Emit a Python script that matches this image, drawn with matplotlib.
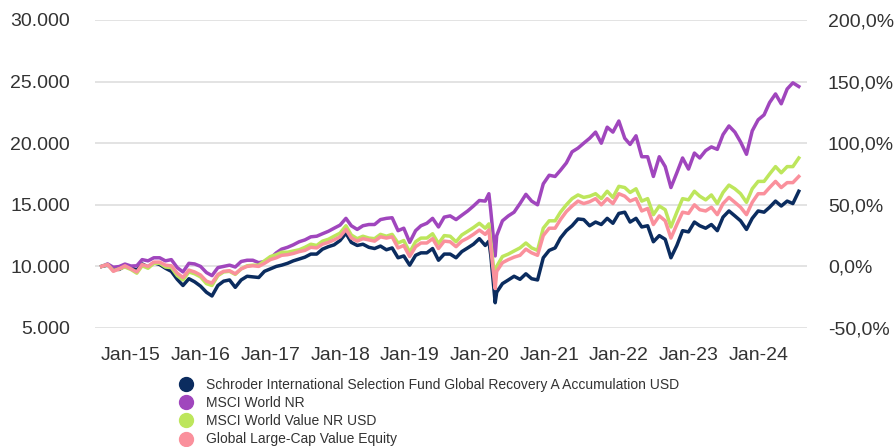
import numpy as np
import pandas as pd
import matplotlib
matplotlib.use("Agg")
import matplotlib.pyplot as plt
import matplotlib.dates as mdates
from matplotlib.lines import Line2D
from matplotlib.ticker import FuncFormatter, FixedLocator

plt.rcParams["font.family"] = ["Liberation Sans", "DejaVu Sans"]

# month ends Jul-2014 .. Jul-2024, plus the Feb-2020 peak and the Mar-2020 trough
month_ends = list(pd.date_range("2014-07-31", "2024-07-31", freq="ME"))
extra_days = [pd.Timestamp("2020-02-19"), pd.Timestamp("2020-03-23")]
dates = sorted(month_ends + extra_days)

fund = [
    10000, 10100, 9800, 9750, 10050, 9900,
    9700, 10200, 9950, 10300, 10150, 9850, 9600, 8950, 8450, 9000, 8750, 8400,
    7900, 7600, 8450, 8800, 8900, 8300, 8900, 9200, 9150, 9100, 9600, 9800,
    10000, 10100, 10250, 10450, 10600, 10750, 11000, 11000, 11400, 11600, 11750, 12100,
    12700, 11950, 11700, 11800, 11550, 11450, 11650, 11350, 11500, 10700, 10850, 10100,
    10900, 11100, 11100, 11450, 10500, 11000, 11000, 10700, 11200, 11500, 11800, 12250,
    11700, 12050, 10900, 7050, 7900, 8600, 8900, 9200, 8950, 9400, 9000, 8900, 10700, 11300,
    11500, 12300, 12900, 13300, 13850, 13800, 13300, 13600, 13400, 13900, 13500, 14300,
    14400, 13600, 13900, 13200, 13300, 12000, 12500, 12200, 10700, 11700, 12900, 12800,
    13600, 13300, 13100, 13400, 12900, 14000, 14500, 14100, 13700, 13000, 13900, 14500,
    14400, 14800, 15300, 14900, 15300, 15100, 16100,
]
msci_world = [
    10000, 10200, 9930, 9990, 10190, 10030,
    10050, 10550, 10450, 10700, 10700, 10450, 10550, 9900, 9550, 10250, 10200, 10000,
    9500, 9250, 9900, 10000, 10100, 9950, 10400, 10500, 10500, 10300, 10400, 10650,
    11100, 11400, 11550, 11750, 12000, 12150, 12400, 12450, 12650, 12850, 13100, 13350,
    13900, 13300, 13000, 13300, 13400, 13400, 13800, 13900, 13950, 12900, 13100, 11950,
    12900, 13300, 13500, 13900, 13200, 14000, 14100, 13800, 14150, 14500, 14900, 15350,
    15300, 15900, 14500, 10850, 12500, 13700, 14100, 14400, 15100, 15850, 15300, 15000, 16700, 17400,
    17300, 17800, 18400, 19300, 19600, 20000, 20400, 20900, 20000, 21300, 20900, 21800,
    20400, 19900, 20600, 18900, 18900, 17300, 18900, 18100, 16400, 17600, 18800, 17900,
    19200, 18800, 19400, 19700, 19500, 20700, 21400, 20900, 20100, 19100, 21000, 21900,
    22300, 23300, 24000, 23200, 24400, 24900, 24600,
]
msci_value = [
    10000, 10150, 9650, 9800, 9950, 9750,
    9450, 10050, 9850, 10250, 10250, 9950, 9900, 9250, 8900, 9550, 9400, 9150,
    8600, 8450, 9250, 9550, 9600, 9350, 9800, 10050, 10100, 10100, 10450, 10800,
    10950, 11150, 11150, 11250, 11350, 11550, 11800, 11700, 12050, 12200, 12450, 12700,
    13300, 12550, 12250, 12450, 12300, 12250, 12600, 12450, 12600, 11900, 12100, 11150,
    12000, 12300, 12300, 12650, 11850, 12500, 12450, 12000, 12550, 12850, 13150, 13500,
    13100, 13450, 11950, 8700, 10000, 10800, 11000, 11250, 11500, 11900, 11500, 11300, 13100, 13700,
    13700, 14400, 15000, 15500, 15800, 15600, 15700, 15900, 15500, 16100, 15600, 16500,
    16400, 16000, 16300, 15300, 15500, 14200, 14900, 14600, 13200, 14400, 15500, 15400,
    16100, 15700, 15400, 15800, 15100, 16000, 16600, 16300, 15900, 15200, 16300, 16900,
    16900, 17500, 18100, 17600, 18100, 18100, 18800,
]
peer_group = [
    10000, 10150, 9600, 9800, 10050, 9800,
    9550, 10150, 10000, 10350, 10350, 10100, 10050, 9450, 9100, 9700, 9550, 9300,
    8800, 8650, 9350, 9600, 9650, 9400, 9800, 10000, 10050, 10000, 10250, 10550,
    10700, 10900, 10950, 11050, 11200, 11300, 11550, 11500, 11800, 11950, 12150, 12400,
    13000, 12300, 12050, 12250, 12150, 12050, 12400, 12300, 12400, 11500, 11700, 10800,
    11600, 11900, 11900, 12250, 11450, 12050, 12000, 11600, 12050, 12300, 12600, 12950,
    12600, 12950, 11500, 8200, 9600, 10300, 10550, 10750, 10900, 11400, 11100, 10900, 12500, 13100,
    13100, 13800, 14450, 14900, 15300, 15100, 15250, 15500, 15000, 15500, 15100, 15900,
    15700, 15300, 15500, 14500, 14700, 13400, 14100, 13700, 12300, 13400, 14400, 14300,
    15000, 14600, 14500, 14800, 14200, 15100, 15600, 15200, 14800, 14200, 15200, 15900,
    15900, 16400, 16900, 16400, 16800, 16800, 17300,
]

labels = [
    "Schroder International Selection Fund Global Recovery A Accumulation USD",
    "MSCI World NR",
    "MSCI World Value NR USD",
    "Global Large-Cap Value Equity",
]
colors = ["#0b2c5f", "#a046bd", "#bde65c", "#fa909c"]
series = [fund, msci_world, msci_value, peer_group]

TXT = "#333333"
fig = plt.figure(figsize=(8.96, 4.47), dpi=100)
ax = fig.add_axes([95 / 896, 119 / 447, 712 / 896, 308 / 447])

for vals, c in zip(series, colors):
    ax.plot(dates, vals, color=c, lw=2.5, solid_joinstyle="round", zorder=3)

ax.set_ylim(5000, 30000)
ax.set_yticks(np.arange(5000, 30001, 5000))
ax.yaxis.set_major_formatter(FuncFormatter(lambda v, p: f"{v:,.0f}".replace(",", ".")))
ax.set_xlim(pd.Timestamp("2014-06-26"), pd.Timestamp("2024-09-12"))
ax.xaxis.set_major_locator(FixedLocator(mdates.date2num(pd.date_range("2015-01-01", "2024-01-01", freq="YS"))))
ax.xaxis.set_major_formatter(mdates.DateFormatter("%b-%y"))
ax.grid(axis="y", color="#e3e3e3", lw=1.4, zorder=0)
for s in ax.spines.values():
    s.set_visible(False)
ax.tick_params(axis="both", length=0, labelsize=14, colors=TXT)
ax.tick_params(axis="y", pad=18)
ax.tick_params(axis="x", pad=14)

ax2 = ax.twinx()
ax2.set_ylim(-50, 200)
ax2.set_yticks(np.arange(-50, 201, 50))
ax2.yaxis.set_major_formatter(FuncFormatter(lambda v, p: f"{v:.1f}%".replace(".", ",")))
for s in ax2.spines.values():
    s.set_visible(False)
ax2.tick_params(axis="y", length=0, labelsize=14, colors=TXT, pad=15)

handles = [Line2D([], [], ls="none", marker="o", ms=10, color=c) for c in colors]
fig.legend(handles, labels, loc="upper left", bbox_to_anchor=(180 / 896, 1 - 378 / 447),
           frameon=False, fontsize=10, handlelength=0.8, handletextpad=1.1,
           labelspacing=0.3, borderpad=0, borderaxespad=0, labelcolor=TXT)

fig.savefig("out.png", dpi=100)
